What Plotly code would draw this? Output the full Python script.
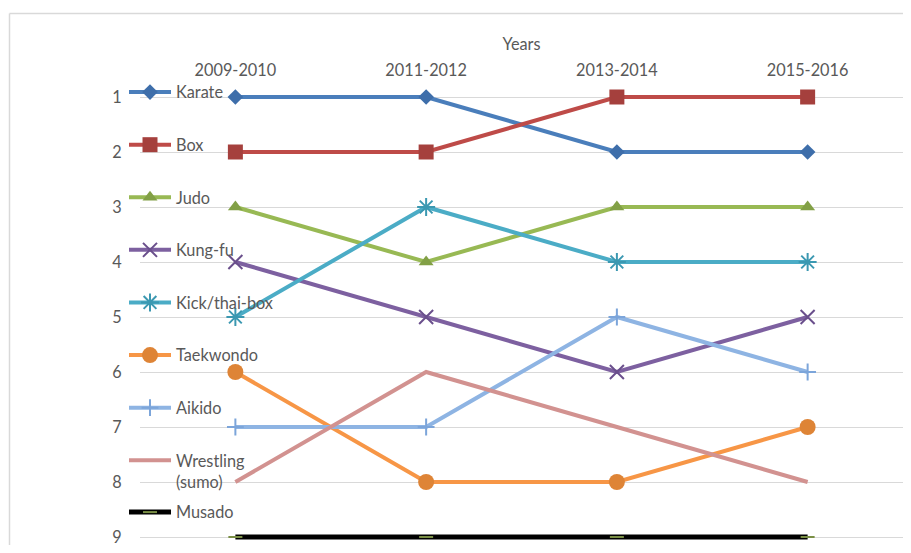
import plotly.graph_objects as go

years = ["2009-2010", "2011-2012", "2013-2014", "2015-2016"]
karate = [1, 1, 2, 2]
box = [2, 2, 1, 1]
judo = [3, 4, 3, 3]
kungfu = [4, 5, 6, 5]
kick = [5, 3, 4, 4]
taekwondo = [6, 8, 8, 7]
aikido = [7, 7, 5, 6]
wrestling = [8, 6, 7, 8]
musado = [9, 9, 9, 9]
rank_ticks = [1, 2, 3, 4, 5, 6, 7, 8, 9]

FONT = "Lato"
TXT = "#595959"
FS = 16.3

series = [
    ("Karate", karate, "#4A7EBB", "#3E6EAA", "diamond", 12, "legend"),
    ("Box", box, "#BE4B48", "#A5403D", "square", 15, "legend"),
    ("Judo", judo, "#98B954", "#82A046", "triangle-up", 13, "legend"),
    ("Kung-fu", kungfu, "#7D60A0", "#6A4F8C", "x-thin-open", 14, "legend"),
    ("Kick/thai-box", kick, "#4BACC6", "#3B98B1", "asterisk-open", 15, "legend"),
    ("Taekwondo", taekwondo, "#F79646", "#DE8436", "circle", 16, "legend"),
    ("Aikido", aikido, "#8EB4E3", "#7CA5DA", "cross-thin-open", 12, "legend"),
    ("Wrestling<br>(sumo)", wrestling, "#D29290", "#D29290", None, 0, "legend"),
    ("Musado", musado, "#000000", "#7A8F45", "line-ew-open", 10, "legend2"),
]

fig = go.Figure()
for i, (name, vals, lc, mc, sym, msz, lg) in enumerate(series):
    lw = 5 if name == "Musado" else 4
    if sym is None:
        mode = "lines"
        marker = None
    else:
        mode = "lines+markers"
        marker = dict(symbol=sym, size=msz, color=mc,
                      line=dict(width=2 if "open" in sym else 0, color=mc))
    fig.add_trace(go.Scatter(
        x=years, y=vals, name=name, mode=mode,
        line=dict(color=lc, width=lw),
        marker=marker, legendgroup="g%d" % i, legend=lg,
    ))

# page body has an 8px margin; figure is sized so the page fits the window
OFF = 8
W, H = 911 - 2 * OFF, 553 - 2 * OFF
L, R, T, B = 140 - OFF, 0, 80 - OFF, H - (540 - OFF)
pw, ph = W - L - R, H - T - B


def px(xr):
    return (xr - OFF - L) / pw


def py(yr):
    return (H - B - (yr - OFF)) / ph


# rank 9 at window y=537, 55 px per rank
y_bottom = 9 + (540 - 537) / 55.0
y_top = y_bottom - ph / 55.0

fig.update_layout(
    width=W, height=H,
    margin=dict(l=L, r=R, t=T, b=B, pad=0),
    paper_bgcolor="white", plot_bgcolor="white",
    font=dict(family=FONT, size=FS, color=TXT),
    showlegend=True,
    legend=dict(
        x=px(124), y=py(75), xanchor="left", yanchor="top",
        bgcolor="rgba(0,0,0,0)", borderwidth=0,
        tracegroupgap=28.4, itemwidth=42, valign="top",
        font=dict(family=FONT, size=FS, color=TXT),
        traceorder="grouped", maxheight=520,
    ),
    legend2=dict(
        x=px(124), y=py(495), xanchor="left", yanchor="top",
        bgcolor="rgba(0,0,0,0)", borderwidth=0, itemwidth=42,
        font=dict(family=FONT, size=FS, color=TXT),
    ),
    xaxis=dict(
        type="category", categoryorder="array", categoryarray=years,
        range=[-0.5, 3.5], side="top", showgrid=False, zeroline=False,
        showline=False, ticks="",
        tickfont=dict(family=FONT, size=FS, color=TXT),
        title=dict(text="Years", font=dict(family=FONT, size=FS, color=TXT), standoff=5),
    ),
    yaxis=dict(
        range=[y_bottom, y_top], tickvals=rank_ticks,
        showgrid=True, gridcolor="#D9D9D9", gridwidth=1,
        zeroline=False, showline=False, ticklabeloverflow="allow",
        ticks="outside", ticklen=14, tickcolor="rgba(0,0,0,0)",
        tickfont=dict(family=FONT, size=FS, color=TXT),
    ),
    shapes=[
        dict(type="line", xref="paper", yref="paper",
             x0=px(9.5), x1=px(930), y0=py(13.5), y1=py(13.5),
             line=dict(color="#D9D9D9", width=1.5)),
        dict(type="line", xref="paper", yref="paper",
             x0=px(9.5), x1=px(9.5), y0=py(13.5), y1=py(570),
             line=dict(color="#D9D9D9", width=1.5)),
    ],
)

fig.write_html("out.html")
